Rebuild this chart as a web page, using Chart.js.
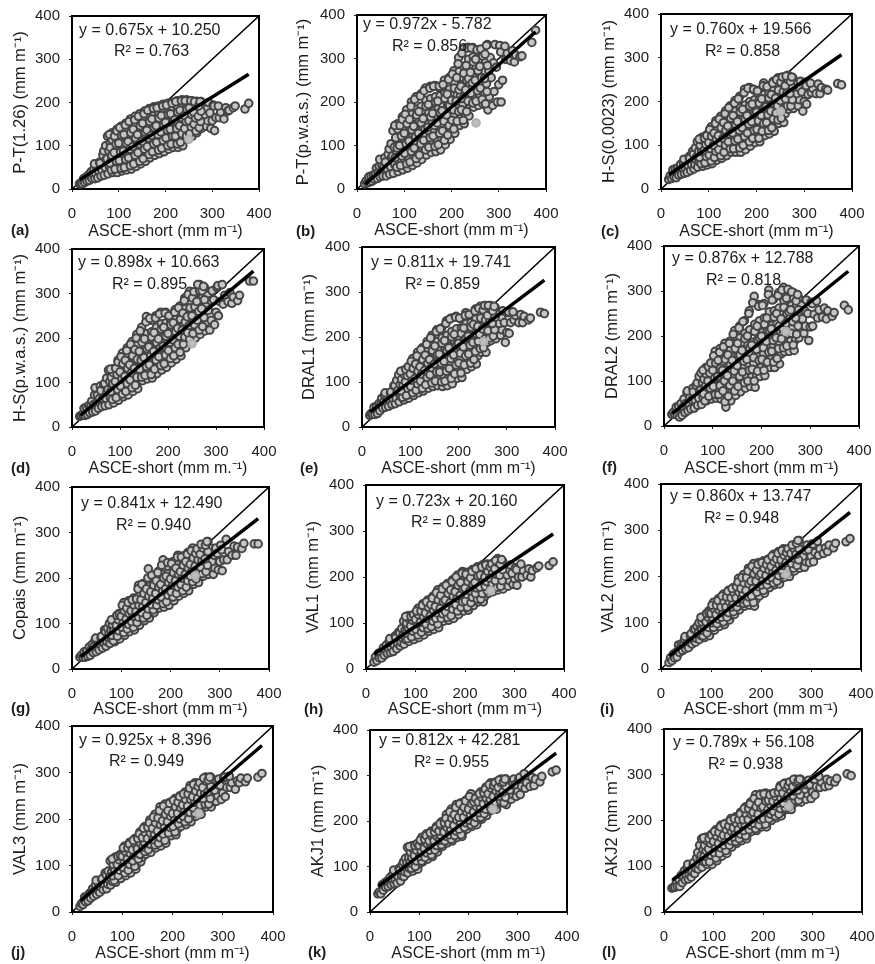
<!DOCTYPE html>
<html><head><meta charset="utf-8">
<style>html,body{margin:0;padding:0;background:#fff;width:875px;height:964px;overflow:hidden}canvas{position:absolute;display:block}</style>
<script src="https://cdn.jsdelivr.net/npm/chart.js@4"></script>
</head><body>
<script>
const asceShort=[16,19,22,25,27,30,32,35,37,39,41,43,45,47,49,51,53,48,55,57,59,62,64,60,66,69,71,73,68,72,
77,80,75,79,82,76,87,90,85,89,92,86,97,100,95,99,102,96,
107,110,104,109,112,106,105,117,120,114,119,122,116,115,127,130,124,129,132,126,125,137,140,134,139,142,136,135,
147,150,144,149,152,146,145,157,160,154,159,162,156,155,167,170,164,169,172,166,165,177,180,174,179,182,176,175,
187,190,184,189,192,186,185,197,200,194,199,202,196,195,207,210,204,209,212,206,205,217,220,214,219,222,216,215,
227,230,224,229,232,226,225,237,240,234,239,242,236,235,247,250,244,249,252,246,245,
257,260,254,259,262,256,267,270,264,269,272,266,277,280,274,279,282,276,
287,290,284,289,292,297,300,295,302,305,308,304,315,318,313,325,329,333,336,345,349,370,378,
84,81,85,82,86,80,92,95,90,94,91,96,105,101,104,100,106,102,112,115,110,116,111,114,125,121,124,120,126,122,
132,135,130,136,131,134,145,141,144,140,146,142,152,155,150,156,151,154,165,161,164,160,166,162,172,175,170,176,171,174,
185,181,184,180,186,182,192,195,190,196,191,194,205,201,204,200,206,202,212,215,210,216,211,214,225,221,224,220,226,222,
232,235,230,236,231,234,245,241,244,240,246,242,252,255,250,256,251,254,265,261,264,260,266,262,272,275,270,276,271,274];
const ptA=[12,14,12,24,15,27,18,32,20,30,40,24,36,46,24,36,48,58,26,42,62,30,44,60,78,32,50,68,88,100,
35,52,70,88,106,122,38,56,74,92,112,130,38,58,78,98,118,138,
42,58,76,94,112,130,145,44,62,80,98,118,136,152,46,66,84,102,122,142,162,52,70,90,108,128,148,168,
58,76,96,116,136,156,174,64,84,102,122,142,162,180,72,90,108,128,146,166,186,78,96,114,134,152,172,190,
82,100,118,136,156,174,192,86,106,124,142,160,178,196,92,110,128,146,164,182,198,96,114,130,148,166,184,200,
96,114,132,150,168,188,204,100,120,138,154,172,190,206,116,132,148,162,176,192,206,
122,138,152,168,186,204,130,146,160,174,190,203,140,152,166,178,190,202,
145,158,172,186,200,140,158,176,194,135,165,192,165,178,192,162,188,180,182,188,192,185,198,
44,60,78,96,114,126,46,64,84,104,122,134,48,66,86,106,124,142,50,68,88,106,126,148,54,72,92,110,130,156,
58,78,98,118,138,160,64,84,104,126,146,168,70,92,110,132,152,174,80,98,118,136,156,182,86,104,124,142,162,186,
90,108,126,146,164,188,94,112,132,150,170,192,100,118,136,154,172,194,104,122,138,156,174,198,104,122,140,160,178,202,
108,128,146,164,182,204,122,140,156,170,184,204,128,144,158,172,188,204,134,150,164,178,192,202,142,156,168,180,192,202];
const ptB=[12,18,14,28,16,30,18,32,22,34,48,24,38,52,28,40,54,68,30,50,72,30,46,62,80,34,52,72,92,104,
36,56,76,96,116,134,40,62,84,108,130,150,44,68,92,116,140,166,
48,70,94,116,138,160,182,54,76,100,124,148,172,200,60,84,108,132,156,184,212,68,92,116,140,164,190,218,
78,102,124,150,176,204,232,84,108,130,154,180,208,236,86,110,134,160,186,212,238,90,116,140,164,190,214,232,
102,124,146,170,194,220,250,114,136,158,180,204,230,256,128,148,170,192,216,244,272,146,166,190,214,240,270,302,
150,172,196,222,250,282,322,168,190,214,240,268,298,326,188,208,232,256,280,304,325,
192,216,240,266,290,316,195,220,246,270,296,320,182,212,242,272,302,332,
192,224,256,290,332,200,240,280,330,200,250,315,298,312,328,295,318,292,308,304,306,337,365,
50,72,94,118,138,146,54,76,100,122,146,160,58,82,104,128,150,172,62,86,110,136,160,190,70,94,120,144,170,206,
78,104,128,152,178,214,90,112,138,162,190,226,96,118,142,166,194,232,98,122,146,174,200,236,102,128,152,176,202,236,
112,134,156,180,208,240,124,146,170,192,218,252,138,158,182,204,232,264,156,178,202,228,256,288,158,182,208,236,266,312,
178,202,228,254,284,324,198,220,244,268,292,324,202,226,250,272,298,320,206,232,256,282,306,322,196,224,254,284,310,330];
const ptC=[22,30,24,44,28,46,26,48,32,44,56,34,48,62,36,46,56,68,38,54,74,42,56,70,86,46,56,68,80,94,
50,62,74,86,98,108,52,66,80,94,106,118,55,70,84,98,112,124,
58,72,86,100,114,128,142,66,80,94,108,122,138,156,70,84,98,114,130,148,166,76,92,108,124,142,160,178,
84,100,116,134,152,170,190,84,102,120,138,158,178,202,84,104,124,144,164,186,212,90,110,130,150,170,192,228,
98,118,138,158,178,200,232,106,124,144,164,184,204,226,108,126,146,166,186,204,224,122,140,158,176,194,216,242,
126,144,162,180,198,218,236,132,150,170,188,206,226,246,150,166,182,198,216,234,254,
152,172,192,212,232,254,182,198,214,228,244,260,184,198,212,226,240,254,
190,204,218,232,246,178,200,222,244,194,216,236,220,230,242,218,240,218,232,228,226,241,238,
58,72,86,100,112,114,60,74,88,102,116,122,64,78,92,106,120,136,72,86,100,114,128,150,76,90,106,122,140,160,
84,100,116,134,152,172,92,108,126,144,162,186,92,110,128,148,168,196,94,114,134,154,176,206,100,120,140,160,182,220,
108,128,148,168,190,230,116,134,154,174,194,228,116,136,156,176,196,224,132,150,168,186,206,236,134,152,170,188,208,234,
140,160,178,196,216,242,158,174,190,208,226,250,162,182,202,222,244,256,190,206,220,236,250,258,190,204,218,232,246,256];
const ptD=[24,26,28,42,26,44,28,48,32,46,58,34,50,72,36,54,72,88,42,64,92,46,64,82,96,48,64,80,98,110,
50,66,84,102,116,128,54,72,90,108,122,130,60,78,96,114,132,150,
68,86,102,118,134,150,166,72,90,106,124,142,160,178,80,96,114,132,150,170,192,86,104,122,142,162,184,208,
104,122,140,160,180,200,224,108,126,146,166,186,210,248,110,130,150,170,190,214,240,120,140,160,180,200,224,250,
128,148,168,188,208,232,258,134,152,172,192,214,234,258,144,162,180,200,220,238,244,152,170,188,206,224,242,264,
160,178,196,214,232,252,272,178,194,210,228,246,266,290,190,204,220,238,258,280,305,
200,220,240,260,280,300,208,228,250,270,292,320,216,236,256,276,296,314,
218,240,262,284,306,230,258,286,314,250,282,318,276,296,320,282,302,278,292,284,296,328,328,
62,80,98,112,122,130,66,84,102,118,132,146,74,92,108,124,142,158,80,98,114,132,150,172,88,106,122,140,160,186,
94,112,132,152,174,200,112,130,150,170,190,216,116,136,156,176,198,236,118,140,160,180,202,244,130,150,170,190,212,245,
138,158,178,198,220,254,142,162,182,204,224,256,154,172,190,210,230,250,160,178,196,214,234,258,168,186,204,222,242,268,
186,202,218,236,256,284,198,212,228,248,268,298,210,230,250,270,290,304,218,240,260,282,306,320,226,246,266,286,306,316];
const ptE=[26,30,28,44,28,46,30,52,36,50,64,42,56,70,44,56,66,76,46,60,76,50,64,78,92,52,64,78,92,104,
56,68,82,94,106,116,60,74,88,102,114,126,64,80,94,108,122,134,
70,84,98,112,124,138,152,76,88,102,116,132,150,166,80,94,110,126,142,158,176,86,102,118,134,150,168,190,
90,108,124,142,160,180,204,92,112,132,150,170,190,216,90,112,132,152,174,198,220,92,114,136,158,180,204,236,
96,120,142,164,188,212,242,108,128,150,172,194,218,246,110,132,154,176,198,220,240,128,148,168,188,208,230,254,
134,152,172,192,212,232,250,140,158,178,198,218,240,262,166,182,198,216,234,252,268,
166,188,208,228,250,270,192,208,224,240,256,270,196,210,224,238,252,266,
204,216,230,244,258,188,210,232,254,208,232,256,238,248,256,232,250,232,246,238,242,255,252,
66,80,94,106,118,124,70,86,100,114,128,134,76,90,104,118,130,146,82,96,108,124,140,158,86,102,118,134,150,172,
94,110,126,142,160,184,98,116,132,150,170,198,102,122,140,160,180,212,100,122,142,162,186,218,102,124,146,170,192,230,
108,130,152,176,200,240,118,138,160,182,206,244,120,142,164,186,208,242,138,158,178,198,220,248,142,162,182,202,222,250,
150,168,188,208,228,258,174,190,206,224,242,264,176,196,218,238,260,270,198,214,232,248,262,270,202,216,230,244,258,268];
const ptF=[26,30,26,42,24,44,20,50,24,42,60,30,50,74,34,50,64,78,38,58,84,40,58,76,90,46,62,78,96,110,
48,64,80,96,110,118,56,70,86,102,118,130,60,76,94,110,126,140,
62,80,98,116,134,150,166,60,80,100,120,138,154,172,42,66,90,112,134,158,184,56,78,100,124,146,168,188,
68,90,112,134,158,184,212,76,98,122,146,170,196,222,84,108,132,156,180,206,234,88,112,136,160,186,214,256,
86,112,140,166,192,226,288,110,134,158,182,208,234,270,112,136,160,186,212,240,272,130,152,176,200,224,254,302,
130,154,178,202,228,256,282,138,160,184,208,234,262,296,165,184,204,226,250,278,308,
166,190,216,240,268,300,168,192,218,244,270,296,196,212,230,248,268,285,
206,222,238,256,280,190,220,250,275,222,248,272,240,258,278,242,262,238,256,244,252,268,258,
56,72,88,104,116,124,66,84,100,118,132,140,70,88,106,124,140,156,70,90,110,128,146,164,54,78,100,124,148,176,
66,90,112,136,158,184,78,100,122,146,172,204,88,110,134,158,184,218,96,120,144,168,194,232,100,124,148,174,200,250,
100,126,152,180,210,274,122,146,170,196,222,266,124,148,174,200,226,268,142,164,188,212,240,292,142,166,190,216,242,280,
150,172,196,222,250,290,174,194,216,238,264,302,178,204,228,254,284,304,180,206,232,258,284,298,204,222,240,258,278,292];
const ptG=[26,30,26,38,26,40,28,48,30,42,54,36,50,64,38,48,58,68,42,54,68,46,58,72,86,50,60,70,82,90,
56,66,76,86,94,100,60,70,82,94,104,110,66,78,90,102,114,122,
74,86,98,110,122,134,146,82,92,104,116,128,140,150,86,98,110,122,134,146,156,96,108,120,132,146,160,184,
106,118,130,144,158,172,188,112,124,138,152,166,182,220,124,136,148,162,176,190,206,134,146,158,172,186,200,214,
136,150,164,178,192,208,240,140,154,168,182,196,212,226,150,164,176,190,204,220,236,160,172,186,200,214,230,250,
166,178,192,206,220,234,248,172,186,200,214,228,242,256,186,198,210,222,236,250,266,
190,204,218,232,246,262,204,216,230,244,258,272,208,222,236,250,266,280,
208,222,236,250,266,218,236,254,272,216,240,262,240,258,285,250,270,250,268,265,276,275,275,
62,74,86,98,106,108,72,84,96,108,118,120,80,92,104,116,128,140,88,98,110,122,134,146,92,104,116,128,140,152,
102,114,126,140,154,176,112,124,138,152,166,186,118,132,146,160,176,200,130,142,156,170,184,206,140,152,166,180,194,212,
144,158,172,186,200,228,148,162,176,190,204,234,158,170,184,198,212,232,166,180,194,208,222,246,172,186,200,214,228,246,
180,194,208,222,236,252,192,204,216,230,244,260,198,212,226,240,254,264,210,224,238,252,266,274,214,228,242,258,272,280];
const ptH=[15,26,18,34,24,36,24,46,30,42,52,34,46,60,36,46,56,66,38,52,72,44,56,68,80,50,58,68,78,88,
54,64,74,84,94,104,60,72,84,96,106,116,64,76,88,100,110,118,
68,80,92,104,114,124,132,74,84,96,108,120,132,142,82,92,104,116,128,140,150,86,98,110,122,134,146,158,
90,104,116,128,142,156,172,104,114,126,138,152,166,178,106,118,130,142,156,170,186,110,124,136,150,164,178,194,
118,132,146,160,174,188,204,126,140,152,166,180,194,212,128,142,156,170,184,198,210,138,150,162,176,190,204,216,
146,158,170,182,194,208,222,146,158,172,186,198,210,226,164,174,184,194,206,216,228,
168,180,192,204,216,230,172,186,198,212,226,240,174,186,198,210,222,234,
180,192,204,216,226,184,196,208,220,182,200,216,200,214,228,204,218,200,214,220,224,225,233,
66,78,90,100,110,114,70,82,94,106,114,118,74,86,98,108,118,126,80,90,102,114,126,138,88,98,110,122,134,146,
92,104,116,128,140,154,98,110,122,136,150,166,110,120,132,146,160,174,112,124,136,150,164,182,116,130,144,158,172,190,
126,140,154,168,182,200,134,146,160,174,188,208,134,148,162,176,190,206,144,156,170,184,198,212,152,164,176,188,202,218,
152,164,178,190,204,222,170,180,190,200,212,226,174,186,198,210,222,228,178,192,206,218,232,236,180,192,204,216,228,238];
const ptI=[14,24,18,32,24,36,26,52,36,46,54,40,52,64,44,52,62,70,46,58,72,54,64,76,86,58,66,76,86,92,
64,72,80,88,96,100,68,78,90,100,108,114,72,84,96,108,118,126,
84,94,104,114,124,134,144,92,102,112,122,132,142,152,96,106,116,128,140,152,162,106,116,128,140,150,160,170,
118,128,138,148,158,168,176,128,138,148,160,172,184,196,136,146,156,168,180,192,204,138,150,162,176,190,204,218,
136,150,166,182,198,214,228,158,170,182,194,206,218,230,164,176,188,200,212,224,234,176,186,196,208,220,230,238,
182,192,204,216,226,238,248,184,196,208,220,232,244,254,198,208,218,230,240,250,260,
200,212,224,236,248,258,212,222,234,244,254,264,218,230,242,254,266,278,
220,232,244,256,268,230,244,258,270,232,252,270,246,260,276,250,262,254,268,262,272,275,282,
72,84,94,102,108,112,78,90,102,112,120,122,90,100,110,120,130,138,98,108,118,128,138,148,102,112,122,134,146,158,
112,122,134,146,156,168,124,134,144,154,164,174,134,144,154,166,178,188,142,152,162,174,186,198,144,156,170,184,198,212,
144,158,174,190,206,222,166,178,190,202,214,226,170,182,194,206,218,230,182,192,202,214,226,236,186,198,210,222,232,244,
190,202,214,226,238,250,204,214,224,236,246,256,206,218,230,242,252,260,218,228,240,250,260,268,224,236,248,260,272,278];
const ptJ=[12,18,16,32,22,34,24,40,30,40,50,34,46,58,38,48,58,68,42,54,70,48,60,72,84,50,60,70,80,88,
58,66,76,86,96,110,64,74,84,96,108,118,72,84,96,108,118,124,
78,90,102,114,126,136,142,84,96,108,120,132,142,150,92,104,116,128,140,150,158,108,118,130,142,154,164,172,
124,134,144,154,164,176,184,128,140,152,164,176,188,198,138,150,162,174,186,198,210,142,154,168,182,196,210,226,
148,162,176,190,204,218,232,164,176,188,200,212,224,236,166,178,190,204,218,232,244,184,194,206,218,230,240,250,
188,200,212,224,236,248,258,194,206,220,234,248,260,272,206,218,230,242,254,266,278,
210,224,238,250,264,276,226,238,250,262,276,290,226,238,252,264,278,290,
238,250,262,274,286,242,256,272,288,248,268,290,268,278,292,264,282,278,288,280,288,290,298,
68,78,90,102,112,114,78,90,102,112,120,122,84,96,108,120,130,138,90,102,114,126,138,146,98,110,122,134,146,154,
114,124,136,148,158,168,130,140,150,160,170,180,134,146,158,170,182,192,144,156,168,180,192,204,148,160,174,188,202,218,
154,168,182,196,210,228,170,182,194,206,218,234,172,184,198,212,226,240,190,200,212,224,236,248,194,206,218,230,242,254,
200,214,228,242,254,266,212,224,236,248,260,274,216,230,244,256,270,278,232,244,256,268,282,288,232,244,258,270,284,290];
const ptK=[40,44,40,60,48,64,54,68,56,66,76,60,72,84,62,72,82,92,64,78,96,68,80,92,104,78,88,98,110,118,
86,96,108,120,132,142,90,102,114,126,138,146,94,106,118,130,142,150,
110,120,130,142,152,160,164,116,126,136,146,156,166,172,122,132,142,152,162,170,178,132,142,152,162,172,182,188,
144,154,164,174,184,192,198,152,162,172,182,192,202,214,156,166,178,190,202,214,226,164,174,186,198,210,222,236,
166,178,192,206,218,230,240,182,192,204,216,226,236,246,188,198,210,222,234,248,260,192,204,216,228,238,246,250,
204,214,224,236,248,258,264,212,222,232,244,256,268,274,224,234,244,254,266,276,284,
226,238,250,262,274,286,240,250,260,270,280,292,236,248,260,272,282,292,
248,258,268,280,292,254,266,280,292,258,276,296,272,284,304,276,296,278,292,286,298,308,312,
96,108,120,132,140,144,100,112,124,136,146,150,112,122,134,146,154,158,120,130,140,150,160,168,126,136,146,156,166,174,
136,146,156,166,176,184,148,158,168,178,188,194,156,166,176,186,196,206,160,170,182,194,206,220,168,178,190,202,214,230,
170,182,196,208,220,238,186,196,208,220,230,244,192,202,214,226,238,254,196,208,220,232,242,250,208,218,230,242,252,260,
216,226,238,250,262,270,228,238,248,260,272,280,230,242,254,266,278,284,244,254,264,274,284,290,240,252,264,276,286,292];
const ptL=[52,54,54,68,56,72,56,80,64,76,90,70,82,96,72,82,92,104,76,88,104,84,96,108,118,94,104,116,130,146,
98,110,124,136,150,160,104,116,130,142,154,164,104,118,132,146,158,170,
112,124,136,148,160,172,180,122,134,146,156,168,180,190,128,140,150,162,174,186,194,142,152,162,172,182,192,204,
150,160,170,180,190,200,208,156,166,176,186,198,208,218,160,172,184,196,208,220,230,176,186,198,208,220,232,240,
178,190,202,214,226,238,256,186,196,208,222,234,246,258,186,198,212,224,236,248,260,200,210,220,230,240,250,258,
206,216,226,238,248,256,260,210,220,232,244,256,268,276,224,234,244,256,266,276,282,
224,236,248,260,272,284,240,250,260,270,280,290,240,250,262,272,282,290,
246,258,268,278,288,248,262,278,290,256,274,290,272,284,296,274,290,276,286,284,292,302,298,
110,122,134,146,156,162,110,124,138,150,160,168,118,130,142,154,166,176,128,140,150,162,174,186,134,146,156,168,180,192,
146,156,166,176,188,200,154,164,174,184,194,204,160,170,180,192,202,214,166,178,190,202,214,226,180,190,202,214,226,236,
182,194,206,218,230,248,190,202,214,228,240,256,192,204,218,230,242,258,204,214,224,234,244,256,210,220,232,242,252,260,
214,226,238,250,262,272,228,238,250,260,272,280,230,242,254,266,276,284,244,254,264,274,284,290,244,256,266,276,286,290];
const seriesY=[ptA,ptB,ptC,ptD,ptE,ptF,ptG,ptH,ptI,ptJ,ptK,ptL];
const highlightX=[250,252,250,250,252,250,250,252,250,252,250,252];
const highlightY=[115,152,177,187,190,210,205,170,205,212,226,231];
const trendX=[17,378];
const trendStart=[21.7,10.7,32.5,25.9,33.5,27.7,26.8,32.5,28.4,24.1,56.1,69.5];
const trendEnd=[265.4,361.6,306.8,350.1,326.3,343.9,330.4,293.5,338.8,358.0,349.2,354.4];
const oneToOne=[0,400];
const tickValues=[0,100,200,300,400];
const letters=['(a)','(b)','(c)','(d)','(e)','(f)','(g)','(h)','(i)','(j)','(k)','(l)'];
const yTitles=['P-T(1.26) (mm m⁻¹)','P-T(p.w.a.s.) (mm m⁻¹)','H-S(0.0023) (mm m⁻¹)','H-S(p.w.a.s.) (mm m⁻¹)','DRAL1 (mm m⁻¹)','DRAL2 (mm m⁻¹)','Copais (mm m⁻¹)','VAL1 (mm m⁻¹)','VAL2 (mm m⁻¹)','VAL3 (mm m⁻¹)','AKJ1 (mm m⁻¹)','AKJ2 (mm m⁻¹)'];
const xTitles=letters.map((_,i)=>i===3?'ASCE-short (mm m.⁻¹)':'ASCE-short (mm m⁻¹)');
const equations=['y = 0.675x + 10.250','y = 0.972x - 5.782','y = 0.760x + 19.566','y = 0.898x + 10.663','y = 0.811x + 19.741','y = 0.876x + 12.788','y = 0.841x + 12.490','y = 0.723x + 20.160','y = 0.860x + 13.747','y = 0.925x + 8.396','y = 0.812x + 42.281','y = 0.789x + 56.108'];
const r2Labels=['R² = 0.763','R² = 0.856','R² = 0.858','R² = 0.895','R² = 0.859','R² = 0.818','R² = 0.940','R² = 0.889','R² = 0.948','R² = 0.949','R² = 0.955','R² = 0.938'];
// layout: plot L,R,T,B, yTitleX, xTitleY, eqX,eqY, r2X,r2Y, letterX,letterY
const layouts=[
[72,259,16,189,20,231,79,31,114,52,11,231],
[357,546,15,189,303,230,363,25,392,47,296,232],
[661,852,14,189,609,231,670,30,705,52,601,232],
[72,264,249,427,20,468,78,263,112,285,11,469],
[362,555,247,427,309,468,371,263,405,285,300,469],
[664,859,246,426,612,468,672,259,706,281,602,468],
[72,269,487,669,20,709,81,504,116,526,11,709],
[366,564,485,669,313,709,376,502,411,523,304,710],
[661,861,484,669,608,709,670,497,704,519,600,710],
[72,273,726,912,20,953,79,741,109,762,11,953],
[370,567,730,912,318,953,379,741,414,763,308,953],
[664,862,729,912,612,953,673,743,708,765,602,953]];
const FONT='"Liberation Sans", Arial, sans-serif', INK='#1c1c1c';
const panelText={id:'panelText',
 beforeDatasetsDraw(c){const g=c.ctx,A=c.chartArea;g.save();g.strokeStyle='#000';g.lineWidth=2;g.strokeRect(A.left,A.top,A.right-A.left,A.bottom-A.top);g.restore();},
 afterDraw(c,a,o){const g=c.ctx;g.save();g.fillStyle=INK;g.textBaseline='middle';g.textAlign='left';
  g.font='16px '+FONT;g.fillText(o.eq,o.eqX,o.eqY);g.fillText(o.r2,o.r2X,o.r2Y);
  g.font='bold 15px '+FONT;g.fillText(o.letter,o.letterX,o.letterY);g.restore();}};
const noPad=s=>{s.paddingLeft=s.paddingRight=s.paddingTop=s.paddingBottom=0;};
layouts.forEach((p,i)=>{
 const [L,R,T,B,ytx,xty,eqX,eqY,r2X,r2Y,lx,ly]=p;
 const cl=ytx-10,ct=T-12,cw=R+18-cl,ch=xty+10-ct;
 const cv=document.createElement('canvas');cv.width=cw;cv.height=ch;cv.style.left=cl+'px';cv.style.top=ct+'px';cv.style.width=cw+'px';cv.style.height=ch+'px';document.body.appendChild(cv);
 const axis=(title,size,tp,extra)=>Object.assign({min:0,max:400,afterBuildTicks(s){s.ticks=tickValues.map(v=>({value:v}));},
   grid:{drawOnChartArea:false,drawTicks:true,tickLength:3,color:'#222',lineWidth:1},border:{display:true,color:'#000',width:2},
   title:{display:true,text:title,color:INK,padding:tp,font:{family:FONT,size:size,lineHeight:1.1}}},extra);
 const chart=new Chart(cv,{type:'scatter',plugins:[panelText],
  data:{datasets:[
   {label:'Trend',data:[{x:trendX[0],y:trendStart[i]},{x:trendX[1],y:trendEnd[i]}],showLine:true,borderColor:'#000',borderWidth:3.5,pointRadius:0,order:0},
   {label:'Highlight',data:[{x:highlightX[i],y:highlightY[i]}],backgroundColor:'#bdbdbd',borderColor:'#b0b0b0',borderWidth:2,pointRadius:3.8,order:1},
   {label:yTitles[i],data:asceShort.map((x,k)=>({x,y:seriesY[i][k]})),backgroundColor:'#c6c6c6',borderColor:'#444',borderWidth:2,pointRadius:3.8,order:2},
   {label:'1:1',data:[{x:oneToOne[0],y:oneToOne[0]},{x:oneToOne[1],y:oneToOne[1]}],showLine:true,borderColor:'#000',borderWidth:1.5,pointRadius:0,order:3}
  ]},
  options:{responsive:false,animation:false,devicePixelRatio:1,
   layout:{autoPadding:false,padding:{top:12,right:18,left:0,bottom:0}},
   plugins:{legend:{display:false},tooltip:{enabled:false},
    panelText:{eq:equations[i],r2:r2Labels[i],letter:letters[i],eqX:eqX-cl,eqY:eqY-ct,r2X:r2X-cl,r2Y:r2Y-ct,letterX:lx-cl,letterY:ly-ct}},
   scales:{
    x:axis(xTitles[i],16,{top:0,bottom:1},{type:'linear',position:'bottom',afterFit(s){s.height=ch-(B-ct);noPad(s);},
      ticks:{maxRotation:0,autoSkip:false,color:INK,padding:13,font:{family:FONT,size:15}}}),
    y:axis(yTitles[i],16.5,{top:1,bottom:0},{type:'linear',position:'left',afterFit(s){s.width=L-cl;noPad(s);},
      ticks:{autoSkip:false,color:INK,padding:9,font:{family:FONT,size:15}}})
   }}});
 const a=chart.chartArea;
 const pad=chart.options.layout.padding;
 const dT=(T-ct)-a.top,dR=a.right-(R-cl);
 if(dT||dR){pad.top=12+dT;pad.right=18+dR;chart.update('none');}
});
</script>
</body></html>
